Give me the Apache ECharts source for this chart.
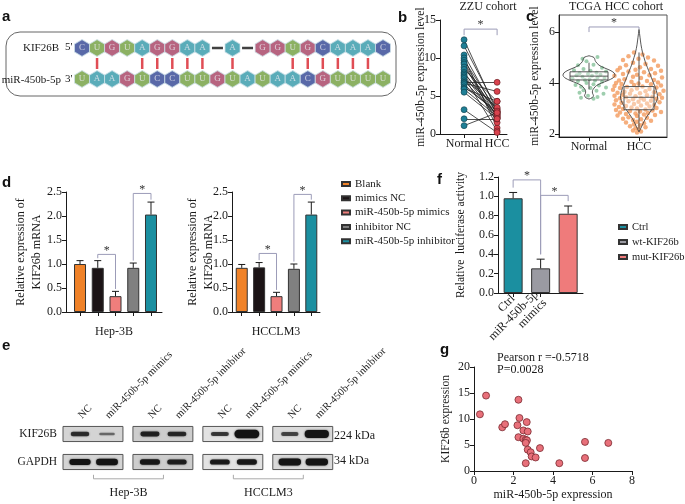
<!DOCTYPE html>
<html>
<head>
<meta charset="utf-8">
<script src="https://cdn.jsdelivr.net/npm/echarts@6/dist/echarts.min.js"></script>
<style>
  html, body { margin: 0; padding: 0; background: #fff; }
  #chart { width: 685px; height: 504px; }
</style>
</head>
<body>
<div id="chart"></div>
<script>
// ---- a: binding site
const kifSeq = ['C','U','G','U','A','G','G','A','A','-','A','-','G','G','U','G','C','A','A','A','C']
const mirSeq = ['U','A','A','G','U','C','C','U','U','G','U','A','U','A','A','C','G','U','U','U','U']
const pairSlots = [1, 4, 5, 6, 7, 8, 10, 14, 15, 16, 17, 18, 19]

// ---- b: ZZU cohort (paired)
const zzuGroups = ['Normal', 'HCC']
const zzuNormal = [12.4, 11.6, 10.4, 10.0, 9.7, 9.4, 9.2, 8.8, 8.5, 8.1, 7.9, 7.7, 7.5, 7.3, 7.0, 6.8, 6.7, 6.5, 6.2, 6.0, 5.9, 5.5, 3.2, 2.0, 1.1]
const zzuHcc = [2.9, 3.3, 2.6, 0.8, 3.0, 2.2, 1.5, 2.8, 4.3, 2.4, 3.2, 2.1, 0.4, 3.5, 2.5, 6.8, 5.6, 2.7, 3.0, 4.3, 2.3, 2.0, 0.2, 2.0, 2.8]

// ---- c: TCGA cohort, [jitter, value]
const tcgaGroups = ['Normal', 'HCC']
const tcgaNormal = [[-0.13,4.95],[0.17,5.02],[-0.05,4.85],[-0.22,4.7],[0.09,4.72],[0.26,4.6],[-0.11,4.55],[-0.3,4.5],[0.03,4.48],[0.34,4.45],
  [0.15,4.4],[-0.19,4.38],[-0.02,4.35],[0.23,4.32],[-0.25,4.3],[0.06,4.28],[-0.13,4.25],[0.17,4.22],[0.31,4.2],[-0.33,4.18],
  [0.01,4.15],[-0.08,4.12],[0.12,4.1],[-0.22,4.08],[0.26,4.05],[-0.05,4.0],[0.09,3.95],[-0.27,3.92],[0.2,3.9],[-0.16,3.85],
  [0.03,3.8],[0.34,3.82],[-0.11,3.72],[0.15,3.7],[-0.19,3.62],[0.29,3.58],[-0.02,3.5],[-0.16,3.42],[0.17,3.45],[0.09,3.38]]
const tcgaHcc = [[-0.1,5.2],[0.07,5.12],[-0.21,5.05],[0.18,5.0],[-0.01,4.95],[-0.32,4.9],[0.3,4.88],[-0.12,4.8],[0.13,4.75],[-0.26,4.7],[0.38,4.68],[0.02,4.62],[-0.38,4.6],
  [0.24,4.55],[-0.07,4.52],[-0.43,4.5],[0.44,4.48],[-0.21,4.45],[0.1,4.42],[0.32,4.38],[-0.32,4.35],[-0.04,4.32],[0.21,4.3],[-0.49,4.28],[-0.12,4.25],[0.46,4.22],[0.04,4.2],[-0.29,4.15],[0.3,4.12],[-0.4,4.1],[0.16,4.08],[-0.15,4.05],[0.38,4.02],[-0.46,4.0],[-0.01,3.98],
  [-0.35,3.96],[0.24,3.95],[-0.1,3.92],[0.44,3.9],[-0.49,3.88],[0.07,3.86],[-0.24,3.84],[0.35,3.82],[-0.38,3.8],[-0.04,3.78],[0.21,3.76],[-0.52,3.74],[-0.15,3.72],[0.49,3.7],[0.13,3.68],[-0.29,3.66],[0.3,3.64],[-0.43,3.62],[0.02,3.6],[-0.18,3.58],[0.41,3.56],[-0.32,3.54],[0.16,3.52],[-0.49,3.5],[-0.07,3.48],[0.27,3.46],[-0.26,3.44],[0.46,3.42],[0.04,3.4],[-0.38,3.4],[0.35,3.38],[-0.12,3.36],[0.1,3.34],[-0.46,3.32],[0.24,3.3],
  [-0.21,3.28],[-0.01,3.26],[0.41,3.24],[-0.35,3.22],[0.16,3.2],[-0.1,3.18],[-0.49,3.16],[0.3,3.14],[0.04,3.12],[-0.26,3.1],[0.21,3.08],[-0.4,3.06],[-0.15,3.04],[0.35,3.02],[-0.04,3.0],[-0.32,2.98],[0.13,2.96],[-0.46,2.94],[0.27,2.92],[-0.18,2.9],[0.02,2.88],[0.44,2.86],[-0.38,2.84],[0.18,2.82],[-0.07,2.8],[-0.26,2.78],[0.1,2.76],[0.32,2.74],[-0.43,2.72],[-0.04,2.7],
  [-0.21,2.66],[0.16,2.64],[-0.32,2.6],[0.04,2.58],[-0.12,2.55],[0.24,2.52],[-0.04,2.48],[-0.26,2.45],[0.1,2.42],[-0.1,2.38],[0.02,2.34],[-0.18,2.3],[0.13,2.26],[-0.07,2.22],[-0.01,2.18],[-0.12,2.14],[0.04,2.1],[-0.04,2.06]]
// violin outline [value, half width]
const normalViolin = [[5.07,0],[5.0,0.1],[4.85,0.13],[4.7,0.2],[4.6,0.3],[4.5,0.42],[4.4,0.5],[4.3,0.52],[4.2,0.48],[4.1,0.38],[4.0,0.25],[3.9,0.15],[3.8,0.1],[3.7,0.07],[3.6,0.07],[3.5,0.09],[3.42,0.06],[3.37,0]]
const hccViolin = [[6.1,0],[5.8,0.02],[5.5,0.04],[5.2,0.07],[5.0,0.1],[4.8,0.13],[4.6,0.17],[4.4,0.21],[4.2,0.25],[4.0,0.29],[3.8,0.33],[3.6,0.36],[3.4,0.37],[3.2,0.33],[3.0,0.27],[2.8,0.2],[2.6,0.13],[2.4,0.08],[2.2,0.03],[2.08,0]]
// [low, q1, median, q3, high]
const tcgaBox = [[3.75, 4.12, 4.27, 4.44, 4.8], [2.2, 2.95, 3.44, 3.86, 5.2]]

// ---- d: qPCR
const dGroups = ['Blank', 'mimics NC', 'miR-450b-5p mimics', 'inhibitor NC', 'miR-450b-5p inhibitor']
const hep3bMean = [1.0, 0.92, 0.33, 0.92, 2.03]
const hep3bErr = [0.07, 0.15, 0.1, 0.1, 0.26]
const lm3Mean = [0.92, 0.93, 0.33, 0.9, 2.03]
const lm3Err = [0.07, 0.1, 0.08, 0.1, 0.26]
const hep3bSig = [[1, 2, 1.2], [3, 4, 2.47]]
const lm3Sig = [[1, 2, 1.22], [3, 4, 2.45]]

// ---- e: western blot
const laneNames = ['NC', 'miR-450b-5p mimics', 'NC', 'miR-450b-5p inhibitor', 'NC', 'miR-450b-5p mimics', 'NC', 'miR-450b-5p inhibitor']
const kifBand = [0.75, 0.25, 0.85, 0.8, 0.65, 1.8, 0.55, 1.7]
const gapdhBand = [1.2, 1.3, 1.0, 0.9, 0.95, 1.0, 1.4, 1.4]
const cellLines = [['Hep-3B', 0, 1], ['HCCLM3', 2, 3]]

// ---- f: luciferase
const fGroups = ['Ctrl', 'wt-KIF26b', 'mut-KIF26b']
const fTicks = ['Ctrl', 'miR-450b-5p\nmimics', 'miR-450b-5p\nmimics']
const fMean = [0.98, 0.255, 0.82]
const fErr = [0.06, 0.095, 0.08]
const fSig = [[0, 1, 1.17], [1, 2, 1.01]]

// ---- g: correlation
const gMir = [0.3, 0.61, 1.43, 1.57, 2.25, 2.3, 2.2, 2.67, 2.5, 2.72, 2.25, 2.5, 2.62, 2.68, 2.62, 2.72, 2.87, 2.92, 3.12, 3.34, 2.62, 4.32, 5.62, 5.62, 6.8]
const gKif = [10.9, 14.5, 8.4, 9.0, 13.7, 10.2, 8.8, 9.4, 7.8, 7.6, 6.5, 6.2, 6.0, 5.9, 5.4, 4.1, 3.6, 2.8, 2.6, 4.4, 1.5, 1.5, 5.6, 2.5, 5.4]

const serif = 'Liberation Serif'
const ink = '#1a1a1a'
const baseColors = { A: '#3197a8', U: '#6f9d3c', G: '#a53d60', C: '#2f4392' }
const dColors = ['#f08228', '#1c1416', '#ef7e7c', '#808080', '#1b8fa0']
const fColors = ['#1b8fa0', '#9a9aa2', '#ef7b7b']
const hexPath = 'path://M50,0L100,27L100,73L50,100L0,73L0,27Z'
const boxStep = 2.59
const laneX = laneNames.map((_, i) => Math.floor(i / 2) * boxStep + i % 2)
const blotBg = ['#d4d4d4', '#cdcdcd', '#e2e2e2', '#dadada']

function valAxis (gridIndex, min, max, o = {}) {
  return {
    type: 'value', gridIndex, min, max, interval: o.interval,
    name: o.name, nameLocation: 'middle', nameGap: o.nameGap, nameMoveOverlap: false,
    nameTextStyle: { color: ink, fontFamily: serif, fontSize: o.nameSize || 12, lineHeight: 16 },
    axisLine: { show: true, onZero: false, lineStyle: { color: ink, width: 1 } },
    axisTick: { show: true, length: 4, lineStyle: { color: ink }, customValues: o.ticks },
    axisLabel: {
      show: o.labels !== false, color: ink, fontFamily: serif, fontSize: 12, margin: 4,
      customValues: o.ticks, formatter: o.formatter, rotate: o.rotate
    },
    splitLine: { show: false }
  }
}

function errorBars (means, errs, cap) {
  return (params, api) => {
    const i = params.dataIndex
    const base = api.coord([i, means[i]])
    const top = api.coord([i, means[i] + errs[i]])
    const st = { stroke: ink, lineWidth: 1 }
    return { type: 'group', children: [
      { type: 'line', shape: { x1: base[0], y1: base[1], x2: top[0], y2: top[1] }, style: st },
      { type: 'line', shape: { x1: top[0] - cap, y1: top[1], x2: top[0] + cap, y2: top[1] }, style: st }
    ] }
  }
}

// bracket: [x1, x2, top, leg1, leg2]
function brackets (list) {
  return (params, api) => {
    const [x1, x2, top, l1, l2] = list[params.dataIndex]
    const p = [api.coord([x1, l1]), api.coord([x1, top]), api.coord([x2, top]), api.coord([x2, l2])]
    return { type: 'group', children: [
      { type: 'polyline', shape: { points: p }, style: { stroke: '#9c9cb8', lineWidth: 1, fill: null } },
      { type: 'text', x: (p[1][0] + p[2][0]) / 2, y: p[1][1] + 2,
        style: { text: '*', fill: '#333', font: '12px ' + serif, align: 'center', verticalAlign: 'bottom', textAlign: 'center', textVerticalAlign: 'bottom' } }
    ] }
  }
}
const sigWithLegs = (sig, means, errs) => sig.map(([a, b, h]) => [a, b, h, means[a] + errs[a] + 0.05, means[b] + errs[b] + 0.05])

function barSeries (names, means, colors, xi, width) {
  return names.map((name, i) => ({
    type: 'bar', name, xAxisIndex: xi, yAxisIndex: xi, barWidth: width, barGap: '-100%',
    itemStyle: { color: colors[i], borderColor: '#333', borderWidth: 1 },
    data: [[i, means[i]]], z: 2
  }))
}

function violinItem (params, api) {
  const i = params.dataIndex
  const prof = [normalViolin, hccViolin][i]
  const right = prof.map(([y, w]) => api.coord([i + w, y]))
  const left = prof.slice().reverse().map(([y, w]) => api.coord([i - w, y]))
  return { type: 'polygon', shape: { points: right.concat(left), smooth: 0.3 }, style: { fill: 'none', stroke: '#444', lineWidth: 0.9 } }
}

function boxItem (params, api) {
  const i = params.dataIndex
  const [lo, q1, med, q3, hi] = tcgaBox[i]
  const hw = i === 0 ? 0.38 : 0.3
  const a = api.coord([i - hw, q3]), b = api.coord([i + hw, q1])
  const m1 = api.coord([i - hw, med]), m2 = api.coord([i + hw, med])
  const wl = api.coord([i, lo]), wh = api.coord([i, hi])
  const st = { stroke: '#444', lineWidth: 0.9 }
  return { type: 'group', children: [
    { type: 'line', shape: { x1: wh[0], y1: wh[1], x2: wh[0], y2: a[1] }, style: st },
    { type: 'line', shape: { x1: wl[0], y1: wl[1], x2: wl[0], y2: b[1] }, style: st },
    { type: 'rect', shape: { x: a[0], y: a[1], width: b[0] - a[0], height: b[1] - a[1] }, style: { fill: 'rgba(255,255,255,0.35)', stroke: '#444', lineWidth: 0.9 } },
    { type: 'line', shape: { x1: m1[0], y1: m1[1], x2: m2[0], y2: m2[1] }, style: st }
  ] }
}

function blotBoxItem (params, api) {
  const b = params.dataIndex
  const x0 = b * boxStep - 0.63, x1 = b * boxStep + 1.59
  return { type: 'group', children: [1, 0].map(row => {
    const p = api.coord([x0, row + 0.27]), q = api.coord([x1, row - 0.27])
    return { type: 'rect', shape: { x: p[0], y: p[1], width: q[0] - p[0], height: q[1] - p[1] },
      style: { fill: blotBg[b], stroke: '#555', lineWidth: 1 } }
  }) }
}

function bandItem (row, strength) {
  return (params, api) => {
    const i = params.dataIndex
    const s = strength[i]
    const c = api.coord([laneX[i], row])
    const w = 14 + 6 * Math.min(s, 1.8)
    const h = 1.8 + 3.6 * s
    const alpha = Math.min(1, 0.35 + 0.6 * s)
    return { type: 'rect', shape: { x: c[0] - w / 2, y: c[1] - h / 2, width: w, height: h, r: h / 2 },
      style: { fill: 'rgba(20,20,20,' + alpha + ')', shadowBlur: 2, shadowColor: 'rgba(0,0,0,' + alpha * 0.7 + ')' } }
  }
}

function cellLineItem (params, api) {
  const [label, b1, b2] = cellLines[params.dataIndex]
  const p = api.coord([b1 * boxStep + 0.5, -0.6]), q = api.coord([b2 * boxStep + 0.5, -0.6])
  const st = { stroke: '#aaa', lineWidth: 1, fill: null }
  return { type: 'group', children: [
    { type: 'polyline', shape: { points: [[p[0], p[1] - 4], p, q, [q[0], q[1] - 4]] }, style: st },
    { type: 'text', x: (p[0] + q[0]) / 2, y: p[1] + 14,
      style: { text: label, fill: ink, font: '12px ' + serif, align: 'center', verticalAlign: 'middle', textAlign: 'center', textVerticalAlign: 'middle' } }
  ] }
}

const txt = (text, x, y, o = {}) => ({
  type: 'text', x, y,
  style: { text, fill: o.fill || ink, font: o.font || ('12px ' + serif),
    align: o.align || 'left', verticalAlign: 'middle', textAlign: o.align || 'left', textVerticalAlign: 'middle' }
})
const letter = (t, x, y) => txt(t, x, y, { font: 'bold 15px Liberation Sans', fill: '#111' })
const legendText = size => ({ fontFamily: serif, fontSize: size, color: ink, lineHeight: 12 })

const chart = echarts.init(document.getElementById('chart'))
const option = {
  animation: false,
  textStyle: { fontFamily: serif },
  grid: [
    { left: 82, top: 48, width: 301, height: 31 },
    { left: 440, top: 20, width: 67, height: 114 },
    { left: 559, top: 15, width: 108, height: 122, show: true, borderColor: '#555', borderWidth: 1 },
    { left: 66, top: 192, width: 96, height: 120 },
    { left: 232, top: 192, width: 88, height: 120 },
    { left: 498, top: 177, width: 85, height: 116 },
    { left: 63, top: 420, width: 267, height: 90 },
    { left: 474, top: 367, width: 158, height: 105 }
  ],
  xAxis: [
    { type: 'value', gridIndex: 0, min: 0, max: 20, show: false },
    valAxis(1, -0.73, 1.30, { ticks: [0, 1], formatter: v => zzuGroups[v] }),
    valAxis(2, -0.6, 1.56, { ticks: [0, 1], formatter: v => tcgaGroups[v] }),
    valAxis(3, -0.79, 4.62, { ticks: [0, 1, 2, 3, 4], labels: false, name: 'Hep-3B', nameGap: 12 }),
    valAxis(4, -0.56, 4.5, { ticks: [0, 1, 2, 3, 4], labels: false, name: 'HCCLM3', nameGap: 12 }),
    valAxis(5, -0.55, 2.54, { ticks: [0, 1, 2], formatter: v => fTicks[v], rotate: 45 }),
    {
      type: 'value', gridIndex: 6, position: 'top', min: -0.63, max: -0.63 + 267 / 27,
      axisLine: { show: false }, axisTick: { show: false }, splitLine: { show: false },
      axisLabel: {
        customValues: laneX, rotate: 45, margin: 3, color: ink, fontFamily: serif, fontSize: 10.5,
        formatter: v => laneNames[laneX.findIndex(x => Math.abs(x - v) < 1e-6)]
      }
    },
    valAxis(7, 0, 8, { interval: 2, name: 'miR-450b-5p expression', nameGap: 16 })
  ],
  yAxis: [
    { type: 'value', gridIndex: 0, min: 0, max: 1, show: false },
    valAxis(1, 0, 15, { interval: 5, name: 'miR-450b-5p expression level', nameGap: 11, nameSize: 11.5 }),
    valAxis(2, 1.88, 6.67, { ticks: [2, 4, 6], name: 'miR-450b-5p expression level', nameGap: 16, nameSize: 11.5 }),
    valAxis(3, 0, 2.5, { interval: 0.5, formatter: v => v.toFixed(1), name: 'Relative expression of\nKIF26b mRNA', nameGap: 21 }),
    valAxis(4, 0, 2.5, { interval: 0.5, formatter: v => v.toFixed(1), name: 'Relative expression of\nKIF26b mRNA', nameGap: 15 }),
    valAxis(5, 0, 1.2, { interval: 0.2, formatter: v => v.toFixed(1), name: 'Relative  luciferase activity', nameGap: 29, nameSize: 11.5 }),
    {
      type: 'value', gridIndex: 6, min: -1.5, max: 1.5,
      axisLine: { show: false }, axisTick: { show: false }, splitLine: { show: false },
      axisLabel: { customValues: [1, 0], margin: 6, color: ink, fontFamily: serif, fontSize: 11.5, formatter: v => (v === 1 ? 'KIF26B' : 'GAPDH') }
    },
    valAxis(7, 0, 20, { interval: 5, name: 'KIF26b expression', nameGap: 20, nameSize: 11.5 })
  ],
  legend: [
    { data: dGroups, left: 336, top: 173, orient: 'vertical', icon: 'rect', itemWidth: 8, itemHeight: 4, itemGap: 2.3, textStyle: legendText(11) },
    { data: fGroups, left: 613, top: 216, orient: 'vertical', icon: 'rect', itemWidth: 8, itemHeight: 4, itemGap: 3, itemTextGap: 4, textStyle: legendText(10.5) }
  ],
  graphic: [
    letter('a', 2, 17), letter('b', 398, 18), letter('c', 526, 17), letter('d', 2, 183),
    letter('e', 2, 346), letter('f', 437, 180), letter('g', 440, 350),
    { type: 'rect', shape: { x: 6, y: 32, width: 390, height: 64, r: 14 }, style: { fill: 'none', stroke: '#666', lineWidth: 1 } },
    txt('KIF26B', 59, 48, { align: 'right', font: '11px ' + serif }),
    txt("5'", 65, 47, { font: '11px ' + serif }),
    txt('miR-450b-5p', 61, 80, { align: 'right', font: '11px ' + serif }),
    txt("3'", 65, 79, { font: '11px ' + serif }),
    txt('ZZU cohort', 488, 7, { align: 'center' }),
    txt('TCGA HCC cohort', 616, 7, { align: 'center' }),
    txt('224 kDa', 334, 436),
    txt('34 kDa', 334, 461),
    txt('Pearson r =-0.5718', 497, 358),
    txt('P=0.0028', 497, 370)
  ],
  series: [
    // a
    {
      type: 'scatter', xAxisIndex: 0, yAxisIndex: 0, symbol: hexPath, symbolSize: [15, 17],
      data: kifSeq.map((b, i) => ({ name: b, value: [i, 1] })).filter(d => d.name !== '-'),
      itemStyle: { color: p => baseColors[p.name], borderColor: '#cfe2ea', borderWidth: 1 },
      label: { show: true, position: 'inside', formatter: '{b}', color: '#e8e8f0', fontFamily: serif, fontSize: 9 }
    },
    {
      type: 'scatter', xAxisIndex: 0, yAxisIndex: 0, symbol: hexPath, symbolSize: [15, 17],
      data: mirSeq.map((b, i) => ({ name: b, value: [i, 0] })),
      itemStyle: { color: p => baseColors[p.name], borderColor: '#cfe2ea', borderWidth: 1 },
      label: { show: true, position: 'inside', formatter: '{b}', color: '#e8e8f0', fontFamily: serif, fontSize: 9 }
    },
    {
      type: 'scatter', xAxisIndex: 0, yAxisIndex: 0, symbol: 'rect', symbolSize: [11, 2.5],
      data: kifSeq.map((b, i) => [i, 1, b]).filter(d => d[2] === '-').map(d => [d[0], d[1]]),
      itemStyle: { color: '#111' }
    },
    {
      type: 'scatter', xAxisIndex: 0, yAxisIndex: 0, symbol: 'rect', symbolSize: [2.5, 11],
      data: pairSlots.map(i => [i, 0.5]), itemStyle: { color: '#d8202a' }
    },
    // b
    {
      type: 'lines', coordinateSystem: 'cartesian2d', xAxisIndex: 1, yAxisIndex: 1, silent: true,
      data: zzuNormal.map((n, i) => ({ coords: [[0, n], [1, zzuHcc[i]]] })),
      lineStyle: { color: '#222', width: 0.8, opacity: 1 }
    },
    {
      type: 'scatter', xAxisIndex: 1, yAxisIndex: 1, symbolSize: 6, data: zzuNormal.map(v => [0, v]),
      itemStyle: { color: '#1f7f96', borderColor: '#0e3b47', borderWidth: 0.6, opacity: 1 }
    },
    {
      type: 'scatter', xAxisIndex: 1, yAxisIndex: 1, symbolSize: 6, data: zzuHcc.map(v => [1, v]),
      itemStyle: { color: '#d9434e', borderColor: '#5a1419', borderWidth: 0.6, opacity: 1 }
    },
    { type: 'custom', xAxisIndex: 1, yAxisIndex: 1, data: [[0, 13.8]], renderItem: brackets([[0, 1, 13.8, 13.0, 13.0]]) },
    // c
    {
      type: 'scatter', xAxisIndex: 2, yAxisIndex: 2, symbolSize: 4, data: tcgaNormal.map(([dx, v]) => [dx, v]),
      itemStyle: { color: '#86c29a', opacity: 0.8 }
    },
    {
      type: 'scatter', xAxisIndex: 2, yAxisIndex: 2, symbolSize: 4.5, data: tcgaHcc.map(([dx, v]) => [1 + dx, v]),
      itemStyle: { color: '#f29a5c', opacity: 0.8 }
    },
    { type: 'custom', xAxisIndex: 2, yAxisIndex: 2, data: [[0, 4.3], [1, 3.4]], renderItem: violinItem, z: 3 },
    { type: 'custom', xAxisIndex: 2, yAxisIndex: 2, data: [[0, 4.27], [1, 3.44]], renderItem: boxItem, z: 4 },
    { type: 'custom', xAxisIndex: 2, yAxisIndex: 2, data: [[0, 6.2]], renderItem: brackets([[0, 1, 6.2, 6.0, 6.1]]) },
    // d
    ...barSeries(dGroups, hep3bMean, dColors, 3, 12),
    ...barSeries(dGroups, lm3Mean, dColors, 4, 12),
    { type: 'custom', xAxisIndex: 3, yAxisIndex: 3, data: hep3bMean.map((m, i) => [i, m]), renderItem: errorBars(hep3bMean, hep3bErr, 3.5), z: 3 },
    { type: 'custom', xAxisIndex: 4, yAxisIndex: 4, data: lm3Mean.map((m, i) => [i, m]), renderItem: errorBars(lm3Mean, lm3Err, 3.5), z: 3 },
    { type: 'custom', xAxisIndex: 3, yAxisIndex: 3, data: hep3bSig.map(s => [s[0], s[2]]), renderItem: brackets(sigWithLegs(hep3bSig, hep3bMean, hep3bErr)), z: 4 },
    { type: 'custom', xAxisIndex: 4, yAxisIndex: 4, data: lm3Sig.map(s => [s[0], s[2]]), renderItem: brackets(sigWithLegs(lm3Sig, lm3Mean, lm3Err)), z: 4 },
    // f
    ...barSeries(fGroups, fMean, fColors, 5, 19),
    { type: 'custom', xAxisIndex: 5, yAxisIndex: 5, data: fMean.map((m, i) => [i, m]), renderItem: errorBars(fMean, fErr, 4), z: 3 },
    { type: 'custom', xAxisIndex: 5, yAxisIndex: 5, data: fSig.map(s => [s[0], s[2]]), renderItem: brackets(sigWithLegs(fSig, fMean, fErr)), z: 4 },
    // e
    { type: 'custom', xAxisIndex: 6, yAxisIndex: 6, data: blotBg.map((_, b) => [b * boxStep, 0]), renderItem: blotBoxItem, z: 1 },
    { type: 'custom', xAxisIndex: 6, yAxisIndex: 6, data: laneX.map(x => [x, 1]), renderItem: bandItem(1, kifBand), z: 2 },
    { type: 'custom', xAxisIndex: 6, yAxisIndex: 6, data: laneX.map(x => [x, 0]), renderItem: bandItem(0, gapdhBand), z: 2 },
    { type: 'custom', xAxisIndex: 6, yAxisIndex: 6, data: cellLines.map(c => [c[1] * boxStep, -0.6]), renderItem: cellLineItem },
    // g
    {
      type: 'scatter', xAxisIndex: 7, yAxisIndex: 7, symbolSize: 7, data: gMir.map((x, i) => [x, gKif[i]]),
      itemStyle: { color: '#e8707a', borderColor: '#7a2a30', borderWidth: 0.8, opacity: 1 }
    }
  ]
}
chart.setOption(option)
</script>
</body>
</html>
